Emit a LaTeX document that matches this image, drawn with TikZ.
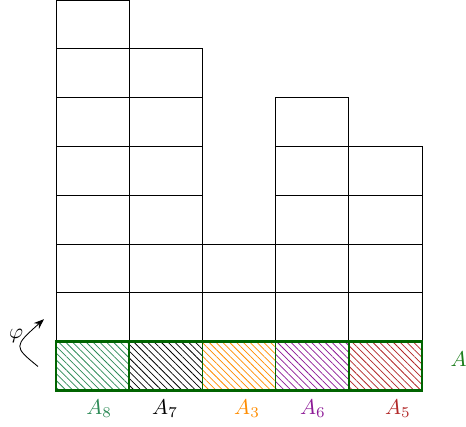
\documentclass[tikz,border=0pt]{standalone}
\usepackage{amsmath}
\usepackage{xcolor}
\usepackage{tikz}
\usetikzlibrary{positioning, arrows.meta, patterns.meta}

\definecolor{dkgreen}{RGB}{0,100,0}
\definecolor{agreen}{RGB}{25,125,25}
\definecolor{sgreen}{RGB}{46,139,87}
\definecolor{aorange}{RGB}{255,140,0}
\definecolor{apurple}{RGB}{140,25,150}
\definecolor{ared}{RGB}{178,40,40}

\tikzset{hatch/.style={pattern={Lines[angle=-45, distance=2.25pt, line width=0.35pt]}, pattern color=#1}}

\begin{document}
\begin{tikzpicture}[x=1.2cm, y=0.8cm]
  \useasboundingbox[clip] (-0.765,-0.741) rectangle (5.601,8);
          % upper cells of each column
          \foreach \i/\h in {0/8, 1/7, 2/3, 3/6, 4/5} {
            \foreach \j in {1,...,7} {
              \ifnum\j<\h
                \draw (\i,\j) rectangle (\i+1,\j+1);
              \fi
            }
          }
          % hatched bottom row
          \foreach \i/\col in {0/sgreen, 1/black, 2/aorange, 3/apurple, 4/ared} {
            \fill[hatch=\col] (\i,0) rectangle (\i+1,1);
            \draw[dkgreen, thick] (\i,0) rectangle (\i+1,1);
          }
          \draw[dkgreen, very thick] (0,0) rectangle (5,1);
          % labels
          \node[text=sgreen] (l8) at (0.59,-0.37) {$A_8$};
          \node (l7) at (1.49,-0.37) {$A_7$};
          \node[text=aorange] (l3) at (2.61,-0.37) {$A_3$};
          \node[text=apurple] (l6) at (3.51,-0.37) {$A_6$};
          \node[text=ared] (l5) at (4.67,-0.37) {$A_5$};
          \node[text=agreen] (la) at (5.5,0.63) {$A$};
          % rotation
          \coordinate (phistart) at (-0.246,0.49);
          \coordinate (phiend) at (-0.164,1.46);
          \draw[-{Stealth}] (phistart) .. controls (-0.58,0.9) .. (phiend);
          \node (phi) at (-0.546,1.11) {$\varphi$};
        \end{tikzpicture}
\end{document}
